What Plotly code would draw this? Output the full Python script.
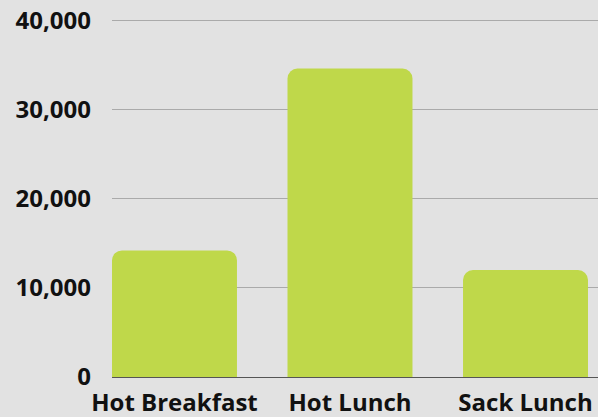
import plotly.graph_objects as go

# meal counts
categories = ["Hot Breakfast", "Hot Lunch", "Sack Lunch"]
meals = [14200, 34600, 12000]
tick_vals = [0, 10000, 20000, 30000, 40000]
tick_text = ["0", "10,000", "20,000", "30,000", "40,000"]

fig = go.Figure()
fig.add_trace(go.Bar(x=categories, y=meals, marker=dict(color="#bfd84a", line=dict(width=0))))

fig.update_layout(
    width=598, height=417,
    margin=dict(l=112, r=0, t=16, b=40),
    paper_bgcolor="#e2e2e2",
    plot_bgcolor="#e2e2e2",
    bargap=0.288,
    barcornerradius=10,
    showlegend=False,
    font=dict(family="Open Sans", size=24, color="#111111"),
)

fig.update_xaxes(
    range=[-0.356, 2.413],
    showgrid=False,
    showline=False,
    tickfont=dict(family="Open Sans", size=24, weight="bold", color="#111111"),
    ticks="outside", ticklen=0, tickcolor="rgba(0,0,0,0)",
    ticklabelstandoff=4,
    automargin=False,
)
fig.update_yaxes(
    range=[0, 40500],
    tickvals=tick_vals,
    ticktext=tick_text,
    showgrid=True, gridcolor="#aaaaaa", gridwidth=1,
    zeroline=True, zerolinecolor="#555555", zerolinewidth=1,
    tickfont=dict(family="Open Sans", size=24, weight="bold", color="#111111"),
    ticklabelstandoff=20,
    automargin=False,
)

# drop the page margin so the grey fills the window
fig.write_html("out.html", config={"displayModeBar": False},
               post_script="document.body.style.margin='0';")
